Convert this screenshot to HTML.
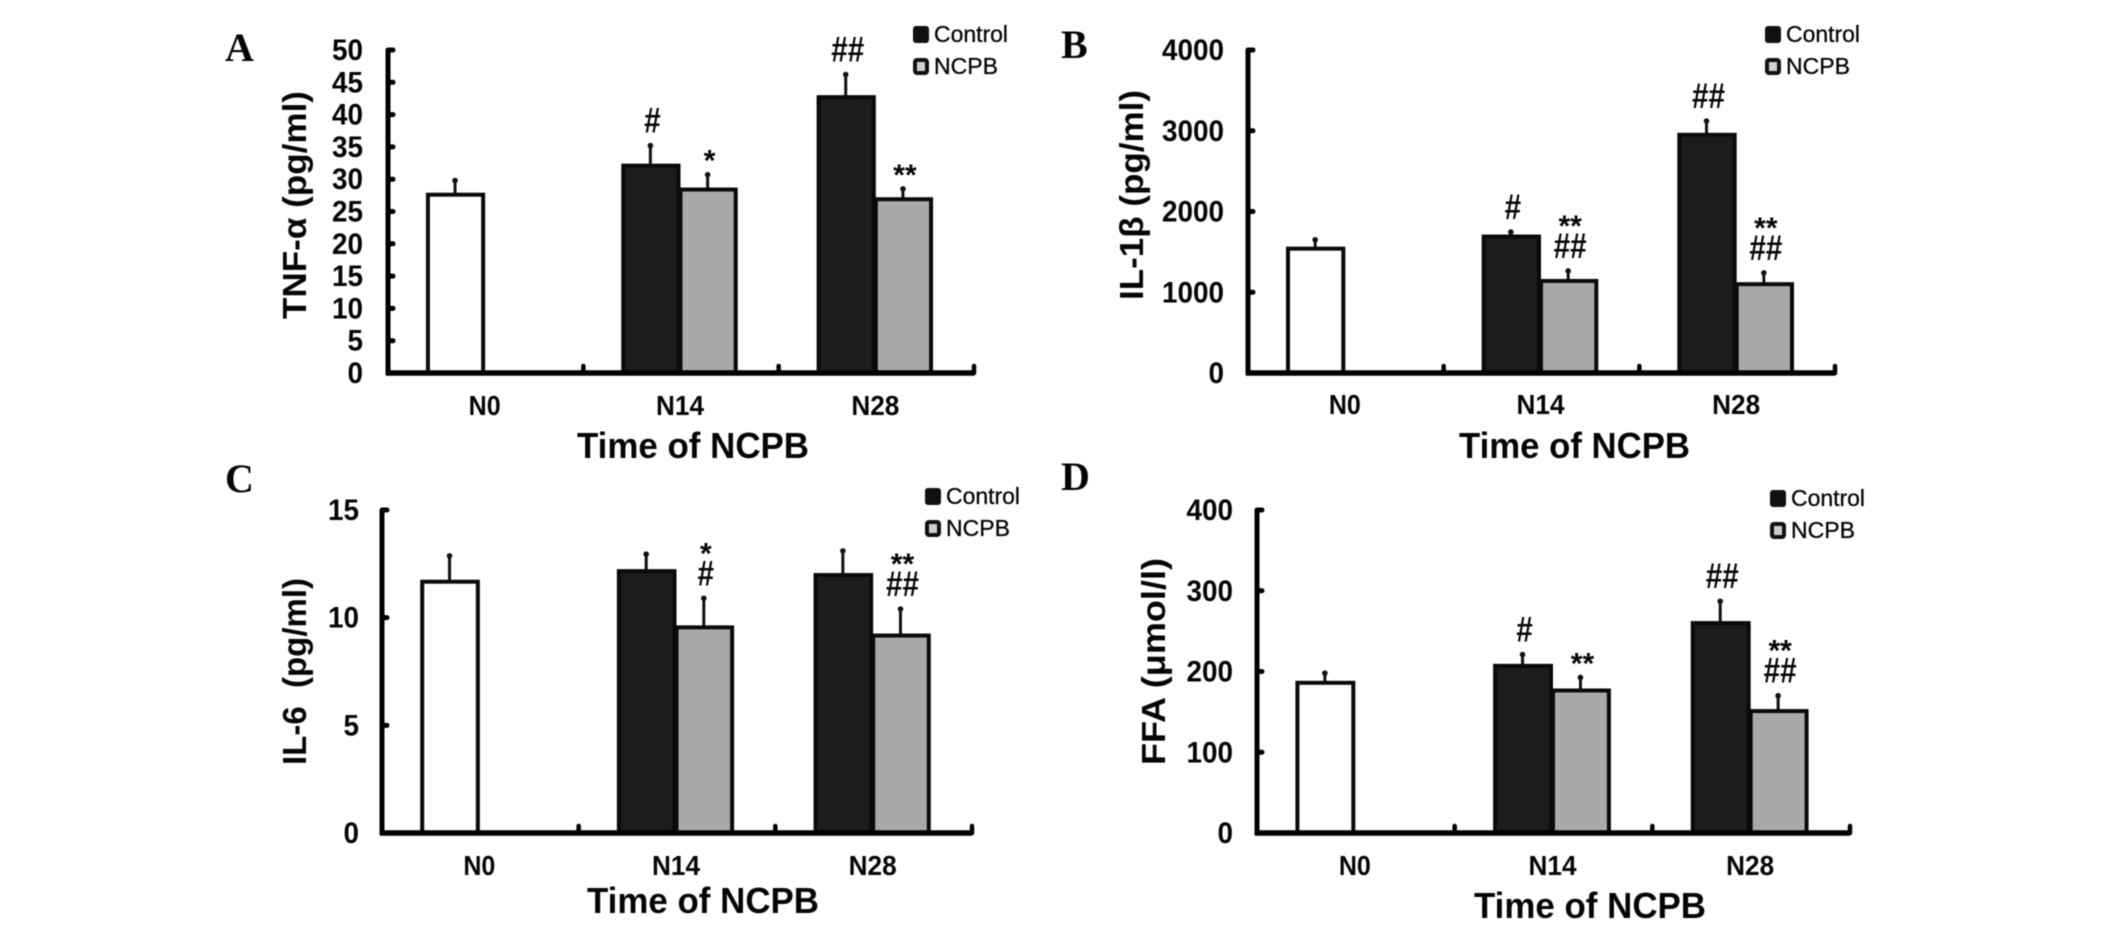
<!DOCTYPE html>
<html>
<head>
<meta charset="utf-8">
<title>Cytokine levels over time of NCPB</title>
<style>
html,body{margin:0;padding:0;background:#fff;width:2126px;height:935px;overflow:hidden}
svg{display:block;filter:blur(0.6px)}
text{font-family:"Liberation Sans",sans-serif;fill:#050505}
.letter{font-family:"Liberation Serif",serif;font-weight:bold;font-size:40px}
.tick{font-weight:bold;font-size:30px;text-anchor:end}
.cat{font-weight:bold;font-size:28px;text-anchor:middle}
.title{font-weight:bold;font-size:33px}
.xtitle{font-weight:bold;font-size:36px}
.leg{font-size:23px;stroke:#050505;stroke-width:0.3px}
.sig{font-weight:bold;font-size:30px;text-anchor:middle}
.sighash{font-weight:bold;font-size:35px;text-anchor:middle}
</style>
</head>
<body>
<svg id="chart" xmlns="http://www.w3.org/2000/svg" width="2126" height="935" viewBox="0 0 2126 935"></svg>
<script>
const categories = ["N0", "N14", "N28"];

const tnfTicks = [0, 5, 10, 15, 20, 25, 30, 35, 40, 45, 50];
const tnfControl = [27.6, 32.1, 42.7];
const tnfControlErr = [29.8, 35.2, 46.2];
const tnfNcpb = [null, 28.4, 26.9];
const tnfNcpbErr = [null, 30.7, 28.5];
const tnfControlSig = [[], ["#"], ["##"]];
const tnfNcpbSig = [[], ["*"], ["**"]];

const il1Ticks = [0, 1000, 2000, 3000, 4000];
const il1Control = [1540, 1690, 2950];
const il1ControlErr = [1650, 1745, 3120];
const il1Ncpb = [null, 1140, 1100];
const il1NcpbErr = [null, 1264, 1240];
const il1ControlSig = [[], ["#"], ["##"]];
const il1NcpbSig = [[], ["**", "##"], ["**", "##"]];

const il6Ticks = [0, 5, 10, 15];
const il6Control = [11.67, 12.16, 11.98];
const il6ControlErr = [12.87, 12.95, 13.1];
const il6Ncpb = [null, 9.55, 9.17];
const il6NcpbErr = [null, 10.9, 10.4];
const il6ControlSig = [[], [], []];
const il6NcpbSig = [[], ["*", "#"], ["**", "##"]];

const ffaTicks = [0, 100, 200, 300, 400];
const ffaControl = [186, 207, 260];
const ffaControlErr = [198, 221, 287];
const ffaNcpb = [null, 176.5, 151];
const ffaNcpbErr = [null, 192.6, 170];
const ffaControlSig = [[], ["#"], ["##"]];
const ffaNcpbSig = [[], ["**"], ["**", "##"]];

const panels = [
  {id:"tnf", letter:"A", lx:225, ly:61, x0:388, x1:974, y0:373, yTop:50, tickRight:363, catBase:415,
   ticks:tnfTicks, control:tnfControl, controlErr:tnfControlErr, ncpb:tnfNcpb, ncpbErr:tnfNcpbErr,
   controlSig:tnfControlSig, ncpbSig:tnfNcpbSig,
   yTitle:"TNF-α (pg/ml)", yBase:306, yA:91, yB:319,
   xTitle:"Time of NCPB", xA:577, xB:809, xBase:458, legX:913, legY:26},
  {id:"il1", letter:"B", lx:1061, ly:58, x0:1248, x1:1835, y0:373, yTop:50, tickRight:1224, catBase:414,
   ticks:il1Ticks, control:il1Control, controlErr:il1ControlErr, ncpb:il1Ncpb, ncpbErr:il1NcpbErr,
   controlSig:il1ControlSig, ncpbSig:il1NcpbSig,
   yTitle:"IL-1β (pg/ml)", yBase:1143, yA:90, yB:300,
   xTitle:"Time of NCPB", xA:1459, xB:1690, xBase:458, legX:1765, legY:26},
  {id:"il6", letter:"C", lx:225, ly:492, x0:382, x1:972, y0:833, yTop:510, tickRight:359, catBase:875,
   ticks:il6Ticks, control:il6Control, controlErr:il6ControlErr, ncpb:il6Ncpb, ncpbErr:il6NcpbErr,
   controlSig:il6ControlSig, ncpbSig:il6NcpbSig,
   yTitle:"IL-6  (pg/ml)", yBase:306, yA:578, yB:765,
   xTitle:"Time of NCPB", xA:587, xB:819, xBase:913, legX:925, legY:488},
  {id:"ffa", letter:"D", lx:1061, ly:490, x0:1257, x1:1850, y0:833, yTop:510, tickRight:1233, catBase:875,
   ticks:ffaTicks, control:ffaControl, controlErr:ffaControlErr, ncpb:ffaNcpb, ncpbErr:ffaNcpbErr,
   controlSig:ffaControlSig, ncpbSig:ffaNcpbSig,
   yTitle:"FFA (μmol/l)", yBase:1165, yA:558, yB:765,
   xTitle:"Time of NCPB", xA:1474, xB:1706, xBase:918, legX:1770, legY:490}
];

const svgNS = "http://www.w3.org/2000/svg";
const root = document.getElementById("chart");

function make(parent, tag, props, content) {
  const el = document.createElementNS(svgNS, tag);
  for (const k in props) el.setAttribute(k, props[k]);
  if (content !== undefined) el.textContent = content;
  parent.appendChild(el);
  return el;
}

function drawBar(g, p, xScale, yScale, catIndex, value, errValue, fill, seriesName, slot) {
  if (value === null) return;
  const bw = xScale.bar;
  const left = xScale.center(catIndex) + slot * bw - 2;
  const top = yScale(value);
  const cx = left + bw / 2;
  const errTop = yScale(errValue);
  const stem = make(g, "line", {x1:cx, x2:cx, y1:top, y2:errTop, stroke:"#111", "stroke-width":3});
  
  
  const cap = make(g, "circle", {cx:cx, cy:errTop, r:2.8, fill:"#111"});
  
  
  const bar = make(g, "rect", {x:left + 1.5, y:top, width:bw - 2, height:p.y0 - top, fill:fill, stroke:"#0a0a0a", "stroke-width":4});
  
  
}

function drawSig(g, xScale, yScale, catIndex, errValue, lines, seriesName, slot) {
  if (!lines.length) return;
  const cx = xScale.center(catIndex) + slot * xScale.bar + xScale.bar / 2;
  const errTop = yScale(errValue);
  const last = lines[lines.length - 1];
  let base = errTop - (last.charAt(0) === "#" ? 13 : 4);
  for (let i = lines.length - 1; i >= 0; i--) {
    const isHash = lines[i].charAt(0) === "#";
    const props = {x:cx, y:base, "class":isHash ? "sighash" : "sig"};
    if (isHash) {
      props.textLength = lines[i].length * 16.5;
      props.lengthAdjust = "spacingAndGlyphs";
    }
    const mark = make(g, "text", props, lines[i]);
    
    
    base -= 22;
  }
}

panels.forEach(function (p) {
  const g = make(root, "g", {});
  
  

  const maxTick = p.ticks[p.ticks.length - 1];
  const yScale = function (v) { return p.y0 - (v / maxTick) * (p.y0 - p.yTop); };
  const catW = (p.x1 - p.x0) / categories.length;
  const xScale = {
    bar: catW * 0.293,
    center: function (i) { return p.x0 + catW * (i + 0.5); }
  };

  const letter = make(g, "text", {x:p.lx, y:p.ly, "class":"letter"}, p.letter);
  
  

  categories.forEach(function (c, i) {
    const white = i === 0;
    drawBar(g, p, xScale, yScale, i, p.control[i], p.controlErr[i], white ? "#ffffff" : "#1c1c1c", "control", -1);
    drawBar(g, p, xScale, yScale, i, p.ncpb[i], p.ncpbErr[i], "#a9a9a9", "ncpb", 0);
    drawSig(g, xScale, yScale, i, p.controlErr[i], p.controlSig[i], "control", -1);
    if (p.ncpb[i] !== null) {
      drawSig(g, xScale, yScale, i, p.ncpbErr[i], p.ncpbSig[i], "ncpb", 0);
    }
    const catLabel = make(g, "text", {x:xScale.center(i) - 1, y:p.catBase, "class":"cat", textLength:c.length * 16, lengthAdjust:"spacingAndGlyphs"}, c);
    
    
    const xt = make(g, "line", {x1:p.x0 + catW * (i + 1), x2:p.x0 + catW * (i + 1), y1:p.y0, y2:p.y0 - 7, stroke:"#000", "stroke-width":4.5, "stroke-linecap":"round"});
    
    
  });

  const yAxis = make(g, "line", {x1:p.x0, x2:p.x0, y1:p.yTop, y2:p.y0 + 2, stroke:"#000", "stroke-width":5});
  
  
  const xAxis = make(g, "line", {x1:p.x0 - 2, x2:p.x1, y1:p.y0, y2:p.y0, stroke:"#000", "stroke-width":5.5});
  
  

  p.ticks.forEach(function (t) {
    const y = yScale(t);
    const tm = make(g, "line", {x1:p.x0, x2:p.x0 + 5, y1:y, y2:y, stroke:"#000", "stroke-width":5, "stroke-linecap":"round"});
    
    
    const label = String(t);
    const tl = make(g, "text", {x:p.tickRight, y:y + 10, "class":"tick", textLength:label.length * 15.5, lengthAdjust:"spacingAndGlyphs"}, label);
    
    
  });

  const yMid = (p.yA + p.yB) / 2;
  const yTitle = make(g, "text", {x:p.yBase, y:yMid, "class":"title", "text-anchor":"middle", textLength:p.yB - p.yA, lengthAdjust:"spacingAndGlyphs", transform:"rotate(-90 " + p.yBase + " " + yMid + ")", "xml:space":"preserve", style:"white-space:pre"}, p.yTitle);
  
  

  const xTitle = make(g, "text", {x:p.xA, y:p.xBase, "class":"xtitle", textLength:p.xB - p.xA, lengthAdjust:"spacingAndGlyphs"}, p.xTitle);
  
  

  const sw1 = make(g, "rect", {x:p.legX, y:p.legY, width:16, height:17, fill:"#111", rx:3});
  
  
  const lt1 = make(g, "text", {x:p.legX + 21, y:p.legY + 16, "class":"leg", textLength:74, lengthAdjust:"spacingAndGlyphs"}, "Control");
  
  
  const sw2 = make(g, "rect", {x:p.legX + 2, y:p.legY + 34, width:12, height:13, fill:"#cfcfcf", stroke:"#111", "stroke-width":4, rx:2});
  
  
  const lt2 = make(g, "text", {x:p.legX + 21, y:p.legY + 48, "class":"leg", textLength:64, lengthAdjust:"spacingAndGlyphs"}, "NCPB");
  
  
});
</script>
</body>
</html>
